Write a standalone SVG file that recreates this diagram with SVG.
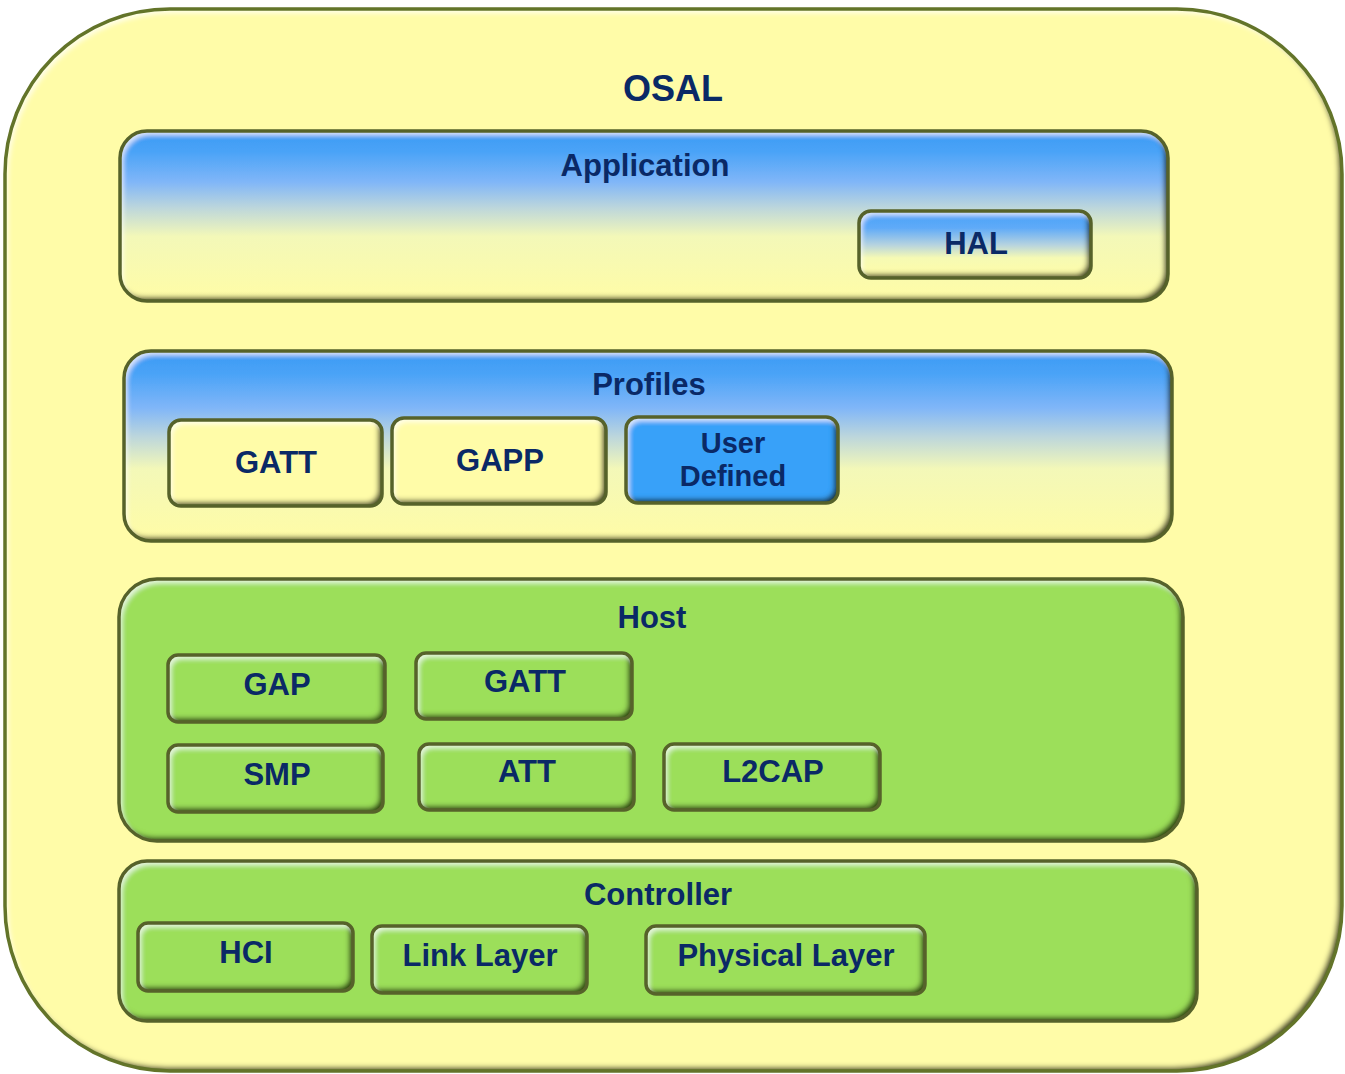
<svg xmlns="http://www.w3.org/2000/svg" width="1345" height="1074" viewBox="0 0 1345 1074">
  <defs>
    <style>
      .rim { fill: none; stroke: #56622a; stroke-width: 3.5; }
      .rim-outer { fill: none; stroke: #637429; stroke-width: 3.5; }
      .yellow { fill: #fffca8; }
      .green { fill: #9cdf5a; }
      .blue { fill: #39a1f9; }
      .face { filter: url(#bevel); }
      .lbl { font-family: "Liberation Sans", Arial, sans-serif; font-weight: bold; fill: #0a2966; text-anchor: middle; }
      .big { font-size: 36px; }
      .mid { font-size: 31px; }
      .two { font-size: 29px; }
    </style>
    <!-- vertical blue-to-cream fill for the layered panels -->
    <linearGradient id="skyPanel" x1="0" y1="0" x2="0" y2="1">
      <stop offset="0" stop-color="#3b9af4"/>
      <stop offset="0.12" stop-color="#4aa3f7"/>
      <stop offset="0.3" stop-color="#80b6f8"/>
      <stop offset="0.45" stop-color="#bcd6dc"/>
      <stop offset="0.62" stop-color="#f3f8b8"/>
      <stop offset="1" stop-color="#fffca6"/>
    </linearGradient>
    <linearGradient id="skyButton" x1="0" y1="0" x2="0" y2="1">
      <stop offset="0" stop-color="#4aa2f7"/>
      <stop offset="0.25" stop-color="#5eaaf8"/>
      <stop offset="0.5" stop-color="#b4d2e0"/>
      <stop offset="0.7" stop-color="#f6fab4"/>
      <stop offset="1" stop-color="#fffca6"/>
    </linearGradient>
    <!-- embossed face: light inner rim top-left, dark inner rim bottom-right -->
    <filter id="bevel" x="-5%" y="-10%" width="110%" height="120%">
      <feComponentTransfer in="SourceAlpha" result="inv">
        <feFuncA type="table" tableValues="1 0"/>
      </feComponentTransfer>
      <feGaussianBlur in="inv" stdDeviation="2.5" result="invBlur"/>
      <feOffset in="invBlur" dx="-4" dy="-4" result="shOff"/>
      <feFlood flood-color="#1a2406" flood-opacity="0.95"/>
      <feComposite in2="shOff" operator="in" result="sh"/>
      <feComposite in="sh" in2="SourceAlpha" operator="in" result="innerShadow"/>
      <feOffset in="invBlur" dx="3" dy="4" result="hlOff"/>
      <feFlood flood-color="#ffffff" flood-opacity="0.7"/>
      <feComposite in2="hlOff" operator="in" result="hl"/>
      <feComposite in="hl" in2="SourceAlpha" operator="in" result="innerHighlight"/>
      <feMerge>
        <feMergeNode in="SourceGraphic"/>
        <feMergeNode in="innerShadow"/>
        <feMergeNode in="innerHighlight"/>
      </feMerge>
    </filter>
  </defs>

  <rect width="1345" height="1074" fill="#ffffff"/>

  <!-- OSAL container -->
  <g id="osal">
    <rect class="face yellow" x="5" y="9" width="1337" height="1062" rx="165" ry="165"/>
    <rect class="rim-outer" x="5" y="9" width="1337" height="1062" rx="165" ry="165"/>
    <text class="lbl big" x="673" y="101">OSAL</text>
  </g>

  <!-- Application layer -->
  <g id="application">
    <rect class="face" x="120" y="131" width="1048" height="170" rx="27" ry="27" fill="url(#skyPanel)"/>
    <rect class="rim" x="120" y="131" width="1048" height="170" rx="27" ry="27"/>
    <text class="lbl mid" x="645" y="176">Application</text>
  </g>
  <g id="hal">
    <rect class="face" x="859" y="211" width="232" height="67" rx="12" ry="12" fill="url(#skyButton)"/>
    <rect class="rim" x="859" y="211" width="232" height="67" rx="12" ry="12"/>
    <text class="lbl mid" x="976" y="254">HAL</text>
  </g>

  <!-- Profiles layer -->
  <g id="profiles">
    <rect class="face" x="124" y="351" width="1048" height="190" rx="27" ry="27" fill="url(#skyPanel)"/>
    <rect class="rim" x="124" y="351" width="1048" height="190" rx="27" ry="27"/>
    <text class="lbl mid" x="649" y="395">Profiles</text>
  </g>
  <g id="profile-gatt">
    <rect class="face yellow" x="169" y="420" width="213" height="86" rx="12" ry="12"/>
    <rect class="rim" x="169" y="420" width="213" height="86" rx="12" ry="12"/>
    <text class="lbl mid" x="276" y="473">GATT</text>
  </g>
  <g id="profile-gapp">
    <rect class="face yellow" x="392" y="418" width="214" height="86" rx="12" ry="12"/>
    <rect class="rim" x="392" y="418" width="214" height="86" rx="12" ry="12"/>
    <text class="lbl mid" x="500" y="471">GAPP</text>
  </g>
  <g id="user-defined">
    <rect class="face blue" x="626" y="417" width="212" height="86" rx="12" ry="12"/>
    <rect class="rim" x="626" y="417" width="212" height="86" rx="12" ry="12"/>
    <text class="lbl two" x="733" y="453">User</text>
    <text class="lbl two" x="733" y="486">Defined</text>
  </g>

  <!-- Host layer -->
  <g id="host">
    <rect class="face green" x="119" y="579" width="1064" height="262" rx="38" ry="38"/>
    <rect class="rim" x="119" y="579" width="1064" height="262" rx="38" ry="38"/>
    <text class="lbl mid" x="652" y="628">Host</text>
  </g>
  <g id="gap">
    <rect class="face green" x="168" y="655" width="217" height="67" rx="10" ry="10"/>
    <rect class="rim" x="168" y="655" width="217" height="67" rx="10" ry="10"/>
    <text class="lbl mid" x="277" y="695">GAP</text>
  </g>
  <g id="host-gatt">
    <rect class="face green" x="416" y="653" width="216" height="66" rx="10" ry="10"/>
    <rect class="rim" x="416" y="653" width="216" height="66" rx="10" ry="10"/>
    <text class="lbl mid" x="525" y="692">GATT</text>
  </g>
  <g id="smp">
    <rect class="face green" x="168" y="745" width="215" height="67" rx="10" ry="10"/>
    <rect class="rim" x="168" y="745" width="215" height="67" rx="10" ry="10"/>
    <text class="lbl mid" x="277" y="785">SMP</text>
  </g>
  <g id="att">
    <rect class="face green" x="419" y="744" width="215" height="66" rx="10" ry="10"/>
    <rect class="rim" x="419" y="744" width="215" height="66" rx="10" ry="10"/>
    <text class="lbl mid" x="527" y="782">ATT</text>
  </g>
  <g id="l2cap">
    <rect class="face green" x="664" y="744" width="216" height="66" rx="10" ry="10"/>
    <rect class="rim" x="664" y="744" width="216" height="66" rx="10" ry="10"/>
    <text class="lbl mid" x="773" y="782">L2CAP</text>
  </g>

  <!-- Controller layer -->
  <g id="controller">
    <rect class="face green" x="119" y="861" width="1078" height="160" rx="28" ry="28"/>
    <rect class="rim" x="119" y="861" width="1078" height="160" rx="28" ry="28"/>
    <text class="lbl mid" x="658" y="905">Controller</text>
  </g>
  <g id="hci">
    <rect class="face green" x="138" y="923" width="215" height="68" rx="10" ry="10"/>
    <rect class="rim" x="138" y="923" width="215" height="68" rx="10" ry="10"/>
    <text class="lbl mid" x="246" y="963">HCI</text>
  </g>
  <g id="link-layer">
    <rect class="face green" x="372" y="926" width="215" height="67" rx="10" ry="10"/>
    <rect class="rim" x="372" y="926" width="215" height="67" rx="10" ry="10"/>
    <text class="lbl mid" x="480" y="966">Link Layer</text>
  </g>
  <g id="physical-layer">
    <rect class="face green" x="646" y="926" width="279" height="68" rx="10" ry="10"/>
    <rect class="rim" x="646" y="926" width="279" height="68" rx="10" ry="10"/>
    <text class="lbl mid" x="786" y="966">Physical Layer</text>
  </g>

  <g id="connectors"/>
</svg>
